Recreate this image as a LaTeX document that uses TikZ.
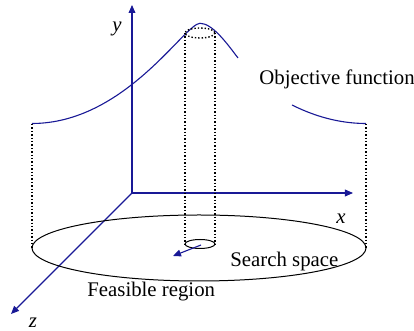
\documentclass[tikz,border=0pt]{standalone}
\usepackage{fontspec}
\setmainfont{Liberation Serif}
\usepackage{xcolor}
\usepackage{tikz}
\usetikzlibrary{arrows.meta}

\definecolor{axisblue}{RGB}{25,25,150}

\begin{document}
\begin{tikzpicture}[
    x=0.5pt, y=-0.5pt,
    >={Triangle[length=4pt, width=3.4pt]},
    every node/.style={font=\fontsize{10.4}{12}\selectfont, inner sep=0pt},
    axis/.style={axisblue, line width=0.55pt, ->},
    objcurve/.style={axisblue, line width=0.55pt},
    guide/.style={black, line width=0.7pt, densely dotted},
]
    \useasboundingbox (0,0) rectangle (414,331);

    % ── Axes ──────────────────────────────────────
    \coordinate (O) at (132,193);
    \coordinate (ytip) at (132,5);
    \coordinate (xtip) at (353,193);
    \coordinate (ztip) at (11,314);
    \draw[axis] (O) -- (ytip);
    \draw[axis] (O) -- (xtip);
    \draw[axis] (O) -- (ztip);
    \node[anchor=base] (ylab) at (117,32) {\textit{y}};
    \node[anchor=base] (xlab) at (341,224) {\textit{x}};
    \node[anchor=base] (zlab) at (33,328) {\textit{z}};

    % ── Feasible region (base ellipse) ───────────
    \def\rx{167}  % half width
    \def\ry{33}   % half height
    \draw[black, line width=0.5pt] (199,248) ellipse [x radius=\rx, y radius=\ry];

    % ── Side walls ───────────────────────────────
    \draw[guide] (32,124) -- (32,248);
    \draw[guide] (366,124) -- (366,248);

    % ── Objective function ───────────────────────
    \coordinate (fl) at (32,123.5);
    \coordinate (fpeak) at (200,23.3);
    \draw[objcurve] (fl) .. controls (125,123.5) and (185,23.3) .. (fpeak)
        .. controls (212,23.3) and (226,42) .. (238,58);
    \draw[objcurve] (292,105) .. controls (320,119) and (345,123.5) .. (366,123.5);

    % ── Cylinder round the optimum ───────────────
    \draw[guide] (200,33) ellipse [x radius=15, y radius=5];
    \draw[guide] (185,33) -- (185,244);
    \draw[guide] (215,33) -- (215,244);
    \draw[black, line width=0.5pt] (200,244) ellipse [x radius=15, y radius=4.5];

    % ── Search step ──────────────────────────────
    \coordinate (s0) at (201,245);
    \coordinate (s1) at (173,256);
    \draw[axis] (s0) -- (s1);

    % ── Labels ────────────────────────────────────
    \node[anchor=base west] (objlab) at (259,85) {Objective function};
    \node[anchor=base west] (searchlab) at (230,267) {Search space};
    \node[anchor=base west] (feaslab) at (87,297) {Feasible region};
\end{tikzpicture}
\end{document}
